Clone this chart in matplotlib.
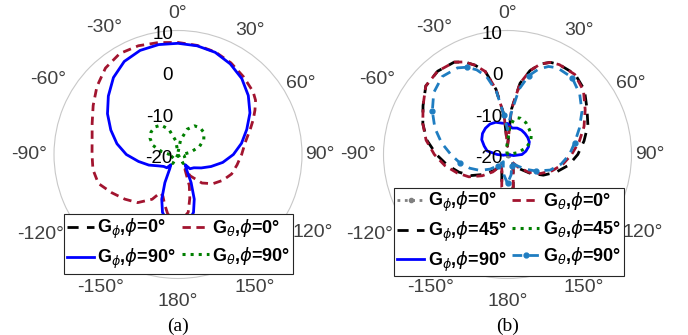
import numpy as np
import matplotlib.pyplot as plt
from matplotlib.transforms import offset_copy

plt.rcParams['font.family'] = ['Liberation Sans', 'DejaVu Sans']
plt.rcParams['mathtext.fontset'] = 'custom'
plt.rcParams['mathtext.rm'] = 'DejaVu Sans:bold'
plt.rcParams['mathtext.it'] = 'DejaVu Sans:italic'

# ---- (a) data: angle (deg), gain (dB) ----
ang_a_phi0 = [-180, 0, 180]
gain_a_phi0 = [-20, -20, -20]

ang_a_phi90 = [-180, -170, -165, -160, -155, -150, -145, -140, -130, -120, -110, -100, -90,
               -80, -70, -60, -50, -40, -30, -20, -10, 0, 10, 20, 30, 40, 50, 60, 70, 80,
               90, 100, 110, 120, 130, 140, 145, 150, 155, 160, 165, 170, 180]
gain_a_phi90 = [-2, -4, -5.5, -8.5, -12.5, -16, -17, -15.8, -15.5, -14.5, -12.5, -10.3, -7.5,
                -5, -2.7, -0.3, 2, 4.3, 6, 6.8, 7, 6.9, 6.7, 6.3, 5.3, 4, 2.2, 0.1, -2.3, -4.4,
                -6.6, -9, -11.5, -13.5, -15, -15.5, -17, -16, -12.5, -8.5, -5.5, -4, -2]

ang_a_th0 = [-180, -170, -165, -160, -155, -150, -140, -130, -120, -110, -100, -90, -80, -70,
             -60, -50, -40, -30, -20, -10, 0, 10, 20, 30, 40, 50, 55, 60, 65, 70, 80, 90,
             100, 110, 120, 130, 140, 150, 155, 160, 165, 170, 180]
gain_a_th0 = [-3, -5.5, -7.5, -9.3, -9.8, -7.5, -4.8, -3.2, -1.5, 0.5, 0.9, 0.8, 1.1, 2.1,
              3.7, 5.6, 7.3, 8.2, 8, 7.5, 7.1, 6.8, 6.4, 5.6, 4.6, 3.7, 2.9, 1.5, 0.1, -1.3,
              -3.5, -4.6, -5.5, -6.2, -7.5, -9, -11, -14, -16, -12, -9, -5.8, -3]

ang_a_th90 = [-180, -150, -120, -100, -90, -80, -70, -60, -50, -40, -30, -20, -10, 0, 10,
              20, 30, 40, 50, 60, 70, 80, 90, 100, 120, 150, 180]
gain_a_th90 = [-20, -17.5, -18, -19, -18, -16, -13.5, -12.2, -11.5, -11.3, -11.8, -13.5, -16.5,
               -19.5, -16.5, -13.5, -12, -11.6, -11.8, -12.8, -14.5, -17, -19, -18.5, -18,
               -17.5, -20]

# ---- (b) data ----
ang_b_phi0 = [-180, 0, 180]
gain_b_phi0 = [-20, -20, -20]

ang_b = [-180, -170, -160, -150, -140, -130, -120, -110, -100, -90, -80, -70, -60, -50, -40,
         -30, -25, -20, -15, -10, -5, 0, 5, 10, 15, 20, 25, 30, 40, 50, 60, 70, 80, 90, 100,
         110, 120, 130, 140, 150, 160, 170, 180]
gain_b_th0 = [-9, -12, -16, -17, -14.5, -12, -9.2, -7, -4.6, -2.3, 0, 1.8, 3.6, 5.8, 6.3,
              5.8, 4.7, 3, 0.8, -4, -10.5, -18, -9, -2.5, 1, 3.3, 4.6, 5.1, 5.3, 4, 1.7, -0.3,
              -2.4, -4.5, -6.4, -8.5, -10.8, -13.3, -16, -18, -16, -12, -9]
gain_b_phi45 = [-9, -12, -16, -17, -15, -12.5, -9.8, -7.5, -5.2, -2.8, -0.2, 1.8, 3.6, 5.8,
                6.3, 5.8, 4.7, 3, 0.8, -4, -10.5, -18, -9, -2.5, 1, 3.3, 4.6, 5.1, 5.4, 4.3,
                2.2, 0.7, -1.2, -3, -5, -7.5, -10, -13, -15.5, -17.5, -16, -12, -9]
gain_b_th90 = [-13, -15, -17, -18, -16.5, -14.5, -12.3, -10.3, -8.3, -6.3, -3.8, -1.3, 1,
               3.3, 4.6, 4.2, 3.3, 1.8, -0.5, -4.5, -10.5, -14, -10, -4, -0.3, 2, 3.5, 4.2,
               4.3, 2.8, 0.8, -1.5, -3.5, -5, -6.8, -9, -12, -14.5, -16.5, -17.5, -17, -15, -13]

ang_b_th45 = [-180, -90, -30, -15, -5, 0, 5, 10, 15, 20, 30, 40, 50, 60, 70, 80, 90, 120, 180]
gain_b_th45 = [-20, -20, -20, -19.5, -18, -17, -13.3, -11.5, -10.8, -10.7, -11.1, -11.9,
               -12.5, -13.5, -15.2, -17.5, -20, -20, -20]

ang_b_phi90 = [-180, -120, -100, -90, -80, -70, -60, -50, -40, -30, -20, -10, 0, 10, 20, 30,
               40, 50, 60, 70, 80, 90, 100, 120, 180]
gain_b_phi90 = [-20, -20, -19, -17.5, -15, -14, -12.8, -12.1, -11.7, -11.5, -11.7, -12.3,
                -12.5, -13.5, -13.2, -13.2, -13.4, -13.6, -13.9, -14.6, -15.5, -16.5, -18.5,
                -20, -20]

theta_ticks = [0, 30, 60, 90, 120, 150, 180, 210, 240, 270, 300, 330]
theta_lbls = ['0°', '30°', '60°', '90°', '120°', '150°', '180°',
              '-150°', '-120°', '-90°', '-60°', '-30°']
# distance of each angle label centre from the pole, in pixels (circle radius is 124)
theta_lbl_dist = [141, 143, 142, 142, 156, 153, 147, 154, 159, 149, 150, 147]
r_ticks = [10, 0, -10, -20]

RED = '#A2142F'
GREEN = '#007F00'
LBLUE = '#1F7DC1'


def setup_polar(ax):
    ax.set_theta_zero_location('N')
    ax.set_theta_direction(-1)
    ax.set_rlim(-20, 10)
    ax.set_xticks([])
    ax.set_rticks([])
    ax.grid(False)
    ax.spines['polar'].set_color('#c8c8c8')
    ax.spines['polar'].set_linewidth(0.8)
    # angle labels, MATLAB style: centred on a ring outside the circle
    for a, lbl, d in zip(theta_ticks, theta_lbls, theta_lbl_dist):
        t = np.deg2rad(a)
        ax.text(0.5 + d / 248 * np.sin(t), 0.5 + d / 248 * np.cos(t), lbl,
                transform=ax.transAxes, ha='center', va='center', fontsize=14,
                color='#404040', clip_on=False)
    r_trans = offset_copy(ax.transData, fig=fig, x=-5, y=-4, units='dots')
    for r in r_ticks:
        ax.text(0, r, str(r), transform=r_trans, ha='right', va='center', fontsize=13.5,
                color='black')


def rad(a):
    return np.deg2rad(a)


fig = plt.figure(figsize=(6.88, 3.35), dpi=100)
ax_a = fig.add_axes([54 / 688, 56.5 / 335, 248 / 688, 248 / 335], projection='polar')
ax_b = fig.add_axes([383.5 / 688, 56.5 / 335, 248 / 688, 248 / 335], projection='polar')

# (a)
setup_polar(ax_a)
h1, = ax_a.plot(rad(ang_a_phi0), gain_a_phi0, color='black', lw=2, dashes=(4, 3))
h2, = ax_a.plot(rad(ang_a_th0), gain_a_th0, color=RED, lw=2, dashes=(3, 2))
h3, = ax_a.plot(rad(ang_a_phi90), gain_a_phi90, color='blue', lw=2)
h4, = ax_a.plot(rad(ang_a_th90), gain_a_th90, color=GREEN, lw=2.2, ls=':')
leg_kw = dict(ncol=2, loc='center', bbox_transform=fig.transFigure,
              prop=dict(weight='bold', size=13), fancybox=False, framealpha=1,
              edgecolor='#262626', handlelength=1.5, handletextpad=0.2,
              columnspacing=0.3, labelspacing=0.3, borderpad=0.15, borderaxespad=0)
leg = ax_a.legend([h1, h3, h2, h4],
                  [r'G$_\phi$,$\phi$=0°', r'G$_\phi$,$\phi$=90°',
                   r'G$_\theta$,$\phi$=0°', r'G$_\theta$,$\phi$=90°'],
                  bbox_to_anchor=(178.5 / 688, 1 - 244 / 335), **leg_kw)
leg.get_frame().set_linewidth(0.8)

# (b)
setup_polar(ax_b)
g1, = ax_b.plot(rad(ang_b_phi0), gain_b_phi0, color='grey', lw=2, ls=':', marker='.')
g2, = ax_b.plot(rad(ang_b), gain_b_phi45, color='black', lw=2, dashes=(4, 3))
g3, = ax_b.plot(rad(ang_b_phi90), gain_b_phi90, color='blue', lw=2)
g4, = ax_b.plot(rad(ang_b), gain_b_th0, color=RED, lw=2, dashes=(3, 2))
g5, = ax_b.plot(rad(ang_b_th45), gain_b_th45, color=GREEN, lw=2.2, ls=':')
g6, = ax_b.plot(rad(ang_b), gain_b_th90, color=LBLUE, lw=2, dashes=(3.5, 2.5),
                marker='.', markersize=7, markevery=4)
leg = ax_b.legend([g1, g2, g3, g4, g5, g6],
                  [r'G$_\phi$,$\phi$=0°', r'G$_\phi$,$\phi$=45°', r'G$_\phi$,$\phi$=90°',
                   r'G$_\theta$,$\phi$=0°', r'G$_\theta$,$\phi$=45°', r'G$_\theta$,$\phi$=90°'],
                  bbox_to_anchor=(509 / 688, 1 - 232 / 335), **leg_kw)
leg.get_frame().set_linewidth(0.8)

fig.text(178 / 688, 1 - 326 / 335, '(a)', family='Liberation Serif', fontsize=14,
         ha='center', va='center')
fig.text(507.5 / 688, 1 - 326 / 335, '(b)', family='Liberation Serif', fontsize=14,
         ha='center', va='center')

fig.savefig('out.png', dpi=100, facecolor='white')
